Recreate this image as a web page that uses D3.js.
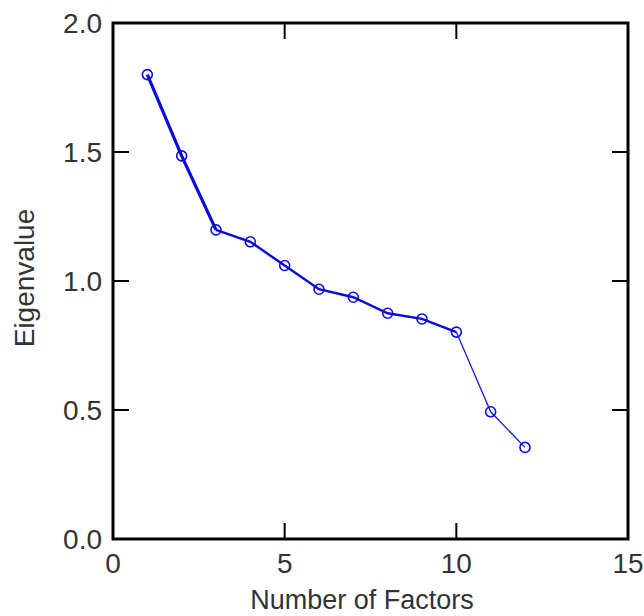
<!DOCTYPE html>
<html>
<head>
<meta charset="utf-8">
<script src="https://cdn.jsdelivr.net/npm/d3@7"></script>
<style>
  html, body { margin: 0; padding: 0; background: #fff; }
  svg { display: block; }
  text { font-family: "Liberation Sans", Arial, sans-serif; fill: #333; }
</style>
</head>
<body>
<svg id="chart" width="644" height="616"></svg>
<script>
// ---- data ----
const factors = [1, 2, 3, 4, 5, 6, 7, 8, 9, 10, 11, 12];
const eigenvalues = [1.80, 1.485, 1.198, 1.152, 1.060, 0.968, 0.937, 0.875, 0.853, 0.802, 0.493, 0.355];
const xTicks = [0, 5, 10, 15];
const yTicks = [0.0, 0.5, 1.0, 1.5, 2.0];
const xLabel = "Number of Factors";
const yLabel = "Eigenvalue";

// ---- layout ----
const W = 644, H = 616;
const m = { left: 113, right: 16, top: 23, bottom: 77 };
const svg = d3.select("#chart");
const x = d3.scaleLinear().domain([0, 15]).range([m.left, W - m.right]);
const y = d3.scaleLinear().domain([0, 2]).range([H - m.bottom, m.top]);

const tickLen = 16;
const g = svg.append("g");

// ticks (inside, on all four sides)
const tickG = g.append("g").attr("stroke", "#000").attr("stroke-width", 2);
xTicks.slice(1, -1).forEach(t => {
  tickG.append("line").attr("x1", x(t)).attr("x2", x(t)).attr("y1", y(0)).attr("y2", y(0) - tickLen);
  tickG.append("line").attr("x1", x(t)).attr("x2", x(t)).attr("y1", y(2)).attr("y2", y(2) + tickLen);
});
yTicks.slice(1, -1).forEach(t => {
  tickG.append("line").attr("x1", x(0)).attr("x2", x(0) + tickLen).attr("y1", y(t)).attr("y2", y(t));
  tickG.append("line").attr("x1", x(15)).attr("x2", x(15) - tickLen).attr("y1", y(t)).attr("y2", y(t));
});

// frame
g.append("rect")
  .attr("x", x(0)).attr("y", y(2))
  .attr("width", x(15) - x(0)).attr("height", y(0) - y(2))
  .attr("fill", "none").attr("stroke", "#000").attr("stroke-width", 3);

// tick labels
const fmtY = d3.format(".1f");
g.append("g").selectAll("text").data(yTicks).join("text")
  .attr("x", x(0) - 11).attr("y", d => y(d) + 10)
  .attr("text-anchor", "end").attr("font-size", 28)
  .text(d => fmtY(d));
g.append("g").selectAll("text").data(xTicks).join("text")
  .attr("x", d => x(d)).attr("y", y(0) + 34)
  .attr("text-anchor", "middle").attr("font-size", 28)
  .text(d => d);

// axis titles
g.append("text")
  .attr("x", 362).attr("y", 609)
  .attr("text-anchor", "middle").attr("font-size", 27)
  .text(xLabel);
g.append("text")
  .attr("transform", `translate(34, ${(y(0) + y(2)) / 2 - 3}) rotate(-90)`)
  .attr("text-anchor", "middle").attr("font-size", 28)
  .text(yLabel);

// line (thicker in the first part, thin in the tail)
const pts = factors.map((f, i) => [f, eigenvalues[i]]);
const line = d3.line().x(d => x(d[0])).y(d => y(d[1]));
g.append("path").datum(pts.slice(0, 3))
  .attr("d", line).attr("fill", "none").attr("stroke", "#0a0ad8").attr("stroke-width", 3.2);
g.append("path").datum(pts.slice(2, 10))
  .attr("d", line).attr("fill", "none").attr("stroke", "#0a0ad8").attr("stroke-width", 2.4);
g.append("path").datum(pts.slice(9))
  .attr("d", line).attr("fill", "none").attr("stroke", "#1a1ad0").attr("stroke-width", 1.3);

// markers
g.append("g").selectAll("circle").data(pts).join("circle")
  .attr("cx", d => x(d[0])).attr("cy", d => y(d[1])).attr("r", 5)
  .attr("fill", "none").attr("stroke", "#0c0ce0").attr("stroke-width", 1.6);
</script>
</body>
</html>
